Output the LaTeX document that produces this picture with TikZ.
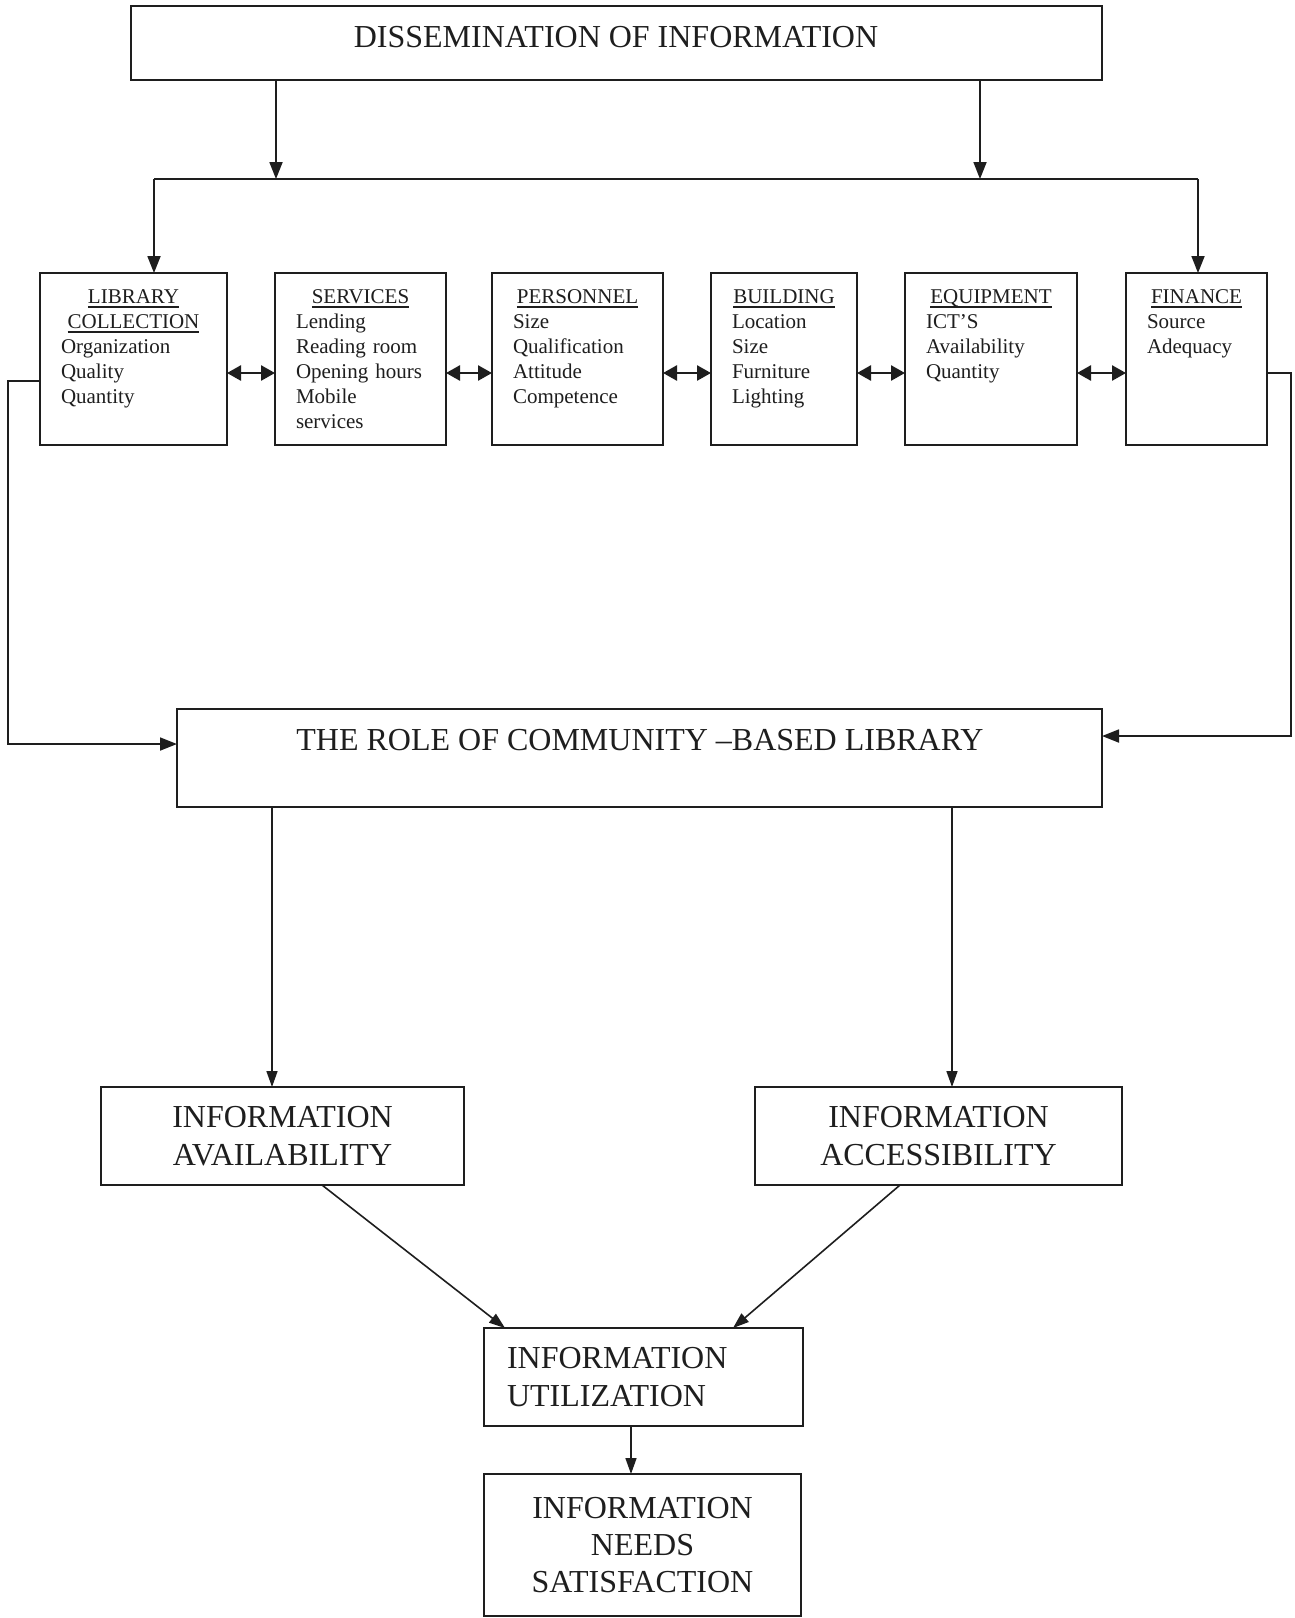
\documentclass[tikz,border=0pt]{standalone}
\usepackage{fontspec}
\setmainfont{Liberation Serif}
\usetikzlibrary{arrows.meta}
\definecolor{ink}{RGB}{30,30,30}
\newcommand\ulh[1]{\setbox0\hbox{#1}\rlap{\rule[-3.8pt]{\wd0}{1.3pt}}\box0}
\newcommand\hd[2]{\makebox[#1]{\ulh{#2}}}
\begin{document}
\begin{tikzpicture}[x=1pt,y=-1pt,
  every node/.style={text=ink, inner sep=0pt, outer sep=0pt},
  box/.style={draw=ink, line width=2pt, rectangle, anchor=north west},
  con/.style={draw=ink, line width=1.8pt},
  arr/.style={con, -{Triangle[length=17pt,width=13pt]}},
  arrs/.style={draw=ink, line width=1.6pt, -{Triangle[length=16pt,width=11pt]}},
  dbl/.style={draw=ink, line width=2.6pt, {Triangle[length=14pt,width=15pt]}-{Triangle[length=14pt,width=15pt]}},
  small/.style={font=\fontsize{21}{25}\selectfont, align=left, anchor=north west},
  big/.style={font=\fontsize{32}{38}\selectfont}]
\useasboundingbox[fill=white] (0,0) rectangle (1294,1618);

% top box
\node[box, minimum width=971pt, minimum height=74pt] (top) at (131,6) {};
\node[big] (topT) at (616,37) {DISSEMINATION OF INFORMATION};

% row of boxes
\node[box, minimum width=187pt, minimum height=172pt] (lib) at (40,273) {};
\node[box, minimum width=171pt, minimum height=172pt] (serv) at (275,273) {};
\node[box, minimum width=171pt, minimum height=172pt] (pers) at (492,273) {};
\node[box, minimum width=146pt, minimum height=172pt] (bld) at (711,273) {};
\node[box, minimum width=172pt, minimum height=172pt] (equ) at (905,273) {};
\node[box, minimum width=141pt, minimum height=172pt] (fin) at (1126,273) {};

\node[small, text width=145pt] (libT) at (61,290) {\hd{145pt}{LIBRARY}\\\hd{145pt}{COLLECTION}\\Organization\\Quality\\Quantity};
\node[small, text width=129pt] (servT) at (296,290) {\hd{129pt}{SERVICES}\\Lending\\Reading room\\Opening hours\\Mobile\\services};
\node[small, text width=129pt] (persT) at (513,290) {\hd{129pt}{PERSONNEL}\\Size\\Qualification\\Attitude\\Competence};
\node[small, text width=104pt] (bldT) at (732,290) {\hd{104pt}{BUILDING}\\Location\\Size\\Furniture\\Lighting};
\node[small, text width=130pt] (equT) at (926,290) {\hd{130pt}{EQUIPMENT}\\ICT’S\\Availability\\Quantity};
\node[small, text width=99pt] (finT) at (1147,290) {\hd{99pt}{FINANCE}\\Source\\Adequacy};

% role box
\node[box, minimum width=925pt, minimum height=98pt] (role) at (177,709) {};
\node[big] (roleT) at (640,740) {THE ROLE OF COMMUNITY –BASED LIBRARY};

% lower boxes
\node[box, big, align=center, minimum width=363pt, minimum height=98pt] (avail) at (101,1087) {INFORMATION\\AVAILABILITY};
\node[box, big, align=center, minimum width=367pt, minimum height=98pt] (acc) at (755,1087) {INFORMATION\\ACCESSIBILITY};
\node[box, big, align=left, text width=273pt, inner xsep=23pt, minimum height=98pt] (util) at (484,1328) {INFORMATION\\UTILIZATION};
\node[box, font=\fontsize{32}{37.3}\selectfont, align=center, minimum width=317pt, minimum height=142pt] (needs) at (484,1474) {INFORMATION\\NEEDS\\SATISFACTION};

% connectors from top
\coordinate (jL) at (276,179);
\coordinate (jR) at (980,179);
\coordinate (hL) at (154,179);
\coordinate (hR) at (1198,179);
\draw[arr] (top.south -| jL) -- (jL);
\draw[arr] (top.south -| jR) -- (jR);
\draw[con] (hL) -- (hR);
\draw[arr] (hL) -- (lib.north -| hL);
\draw[arr] (hR) -- (fin.north -| hR);

% double arrows
\coordinate (dy) at (0,373);
\draw[dbl] (lib.east |- dy) -- (serv.west |- dy);
\draw[dbl] (serv.east |- dy) -- (pers.west |- dy);
\draw[dbl] (pers.east |- dy) -- (bld.west |- dy);
\draw[dbl] (bld.east |- dy) -- (equ.west |- dy);
\draw[dbl] (equ.east |- dy) -- (fin.west |- dy);

% feedback lines
\coordinate (ly) at (0,381);
\coordinate (lx) at (8,744);
\coordinate (ry) at (0,373);
\coordinate (rx) at (1291,736);
\draw[arr] (lib.west |- ly) -| (lx) -- (role.west |- lx);
\draw[arr] (fin.east |- ry) -| (rx) -- (role.east |- rx);

% lower connectors
\coordinate (dl) at (272,0);
\coordinate (dr) at (952,0);
\draw[arrs] (role.south -| dl) -- (avail.north -| dl);
\draw[arrs] (role.south -| dr) -- (acc.north -| dr);
\draw[arrs] ([xshift=221pt]avail.south west) -- ([xshift=21pt]util.north west);
\draw[arrs] ([xshift=145pt]acc.south west) -- ([xshift=249pt]util.north west);
\draw[arrs] ([xshift=147pt]util.south west) -- ([xshift=147pt]needs.north west);
\end{tikzpicture}
\end{document}
